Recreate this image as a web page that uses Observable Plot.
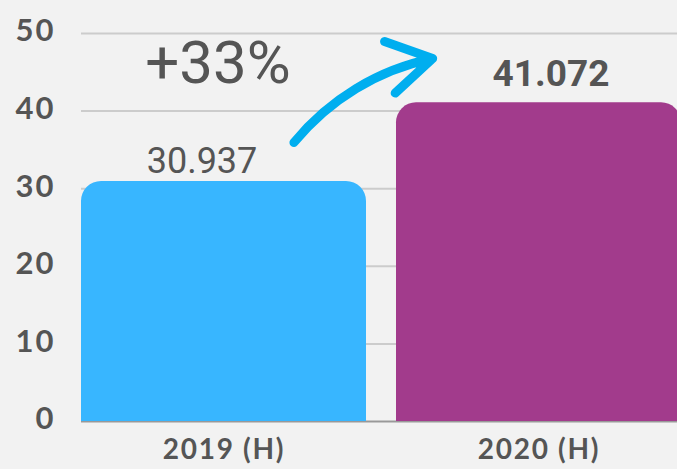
<!DOCTYPE html>
<html><head><meta charset="utf-8">
<script src="https://cdn.jsdelivr.net/npm/d3@7"></script>
<script src="https://cdn.jsdelivr.net/npm/@observablehq/plot@0.6"></script>
<style>
html,body{margin:0;padding:0;background:#f2f2f2;}
svg{display:block;background:#f2f2f2;}
g[aria-label="y-axis tick label"] text { font-size: 31px !important; font-weight: bold !important; font-family: Lato, sans-serif !important; letter-spacing: 2px; }
g[aria-label="x-axis tick label"] text { font-size: 28px !important; font-weight: bold !important; font-family: Lato, sans-serif !important; letter-spacing: 1.7px; }
</style></head><body><div id="chart"></div>
<script>
const categories = ["2019 (H)", "2020 (H)"];
const values = [30.937, 41.072];
const valueLabels = ["30.937", "41.072"];
const colors = ["#38b6ff", "#a23b8c"];
const yTicks = [0, 10, 20, 30, 40, 50];
const changeLabel = "+33%";
// arrow annotation in data units (start/end category and value)
const arrowStart = ["2019 (H)", 26.93];
const arrowEnd = ["2020 (H)", 45.32];

const data = categories.map((c, i) => ({cat: c, value: values[i], label: valueLabels[i], color: colors[i]}));

const chart = Plot.plot({
  width: 677,
  height: 469,
  marginLeft: 81,
  marginRight: 0,
  marginTop: 33,
  marginBottom: 48,
  style: {background: "#f2f2f2", color: "#555"},
  x: {domain: categories, range: [81, 681], paddingInner: 30 / 315, paddingOuter: 0, label: null},
  y: {domain: [0, 50], label: null},
  marks: [
    Plot.gridY(yTicks.filter(d => d > 0), {stroke: "#cccccc", strokeOpacity: 1, strokeWidth: 2}),
    Plot.ruleY([0], {stroke: "#999", strokeWidth: 2}),
    Plot.barY(data, {x: "cat", y: "value", fill: "color", ry1: 20}),
    Plot.axisY({ticks: yTicks, tickSize: 0, tickPadding: 26, dy: -2, fill: "#555", label: null}),
    Plot.axisX({tickSize: 0, tickPadding: 18, fill: "#555", label: null}),
    Plot.text([data[0]], {x: "cat", y: "value", text: "label", dx: -22, dy: -8, lineAnchor: "bottom", fontSize: 36, fontWeight: "normal", fontFamily: "Roboto", fill: "#555"}),
    Plot.text([data[1]], {x: "cat", y: "value", text: "label", dx: 12, dy: -17, lineAnchor: "bottom", fontSize: 37, fontWeight: "bold", fontFamily: "Roboto", fill: "#555"}),
    Plot.text([changeLabel], {x: [categories[0]], y: [43.56], text: d => d, dx: -6, lineAnchor: "bottom", fontSize: 60, fontWeight: "normal", fontFamily: "Roboto", fill: "#555"}),
    Plot.arrow([{x1: arrowStart[0], y1: arrowStart[1], x2: arrowEnd[0], y2: arrowEnd[1]}], {
      x1: "x1", y1: "y1", x2: "x2", y2: "y2", dx: 30, bend: 45.5,
      insetStart: 80.6, insetEnd: 136.8, stroke: "#00aeef", strokeWidth: 9,
      headLength: 8.5, headAngle: 62, strokeLinecap: "round", strokeLinejoin: "round"
    })
  ]
});
document.getElementById("chart").appendChild(chart);
</script></body></html>
